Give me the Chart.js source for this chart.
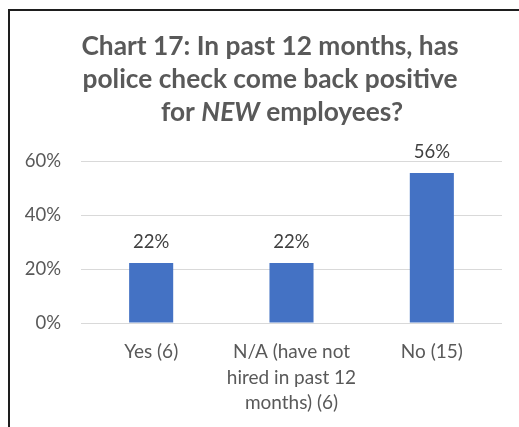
<!DOCTYPE html>
<html>
<head>
<meta charset="utf-8">
<script src="https://cdn.jsdelivr.net/npm/chart.js@4"></script>
<style>
  html, body { margin: 0; padding: 0; background: #fff; overflow: hidden; }
  #frame {
    position: absolute; left: 8px; top: 9px; width: 600px; height: 500px;
    border-left: 2px solid #1e1e1e; border-top: 2px solid #1e1e1e;
  }
  #wrap { position: absolute; left: 0; top: 0; width: 519px; height: 427px; }
</style>
</head>
<body>
<div id="frame"></div>
<div id="wrap"><canvas id="chart17"></canvas></div>
<script>
// survey answers (n = 27)
const categories = ['Yes (6)', ['N/A (have not', 'hired in past 12', 'months) (6)'], 'No (15)'];
const shares = [0.222, 0.222, 0.556];
const yTicks = [0, 0.2, 0.4, 0.6];

// title lines, each a list of runs so one word can be italic
const titleLines = [
  [{ text: 'Chart 17: In past 12 months, has' }],
  [{ text: 'police check come back positive' }],
  [{ text: 'for ' }, { text: 'NEW', italic: true }, { text: ' employees?' }]
];

const FONT = 'Lato, "Open Sans", sans-serif';
const GREY = '#595959';

const pct = v => Math.round(v * 100) + '%';

// draws the multi-run title above the plot
const runTitle = {
  id: 'runTitle',
  afterDraw(chart, args, opts) {
    const ctx = chart.ctx;
    ctx.save();
    ctx.fillStyle = opts.color;
    ctx.textBaseline = 'middle';
    ctx.textAlign = 'left';
    titleLines.forEach((runs, i) => {
      const fontOf = r => (r.italic ? 'italic ' : '') + 'bold ' + opts.size + 'px ' + FONT;
      let w = 0;
      runs.forEach(r => { ctx.font = fontOf(r); w += ctx.measureText(r.text).width; });
      let x = opts.centerX + (opts.shift[i] || 0) - w / 2;
      const y = opts.top + i * opts.lineHeight;
      runs.forEach(r => {
        ctx.font = fontOf(r);
        ctx.fillText(r.text, x, y);
        x += ctx.measureText(r.text).width;
      });
    });
    ctx.restore();
  }
};

// value labels above each bar
const barValues = {
  id: 'barValues',
  afterDatasetsDraw(chart, args, opts) {
    const ctx = chart.ctx;
    ctx.save();
    ctx.font = opts.size + 'px ' + FONT;
    ctx.fillStyle = opts.color;
    ctx.textAlign = 'center';
    ctx.textBaseline = 'middle';
    chart.getDatasetMeta(0).data.forEach((bar, i) => {
      ctx.fillText(pct(chart.data.datasets[0].data[i]), bar.x, bar.y - opts.offset);
    });
    ctx.restore();
  }
};

new Chart(document.getElementById('chart17'), {
  type: 'bar',
  data: {
    labels: categories,
    datasets: [{
      data: shares,
      backgroundColor: '#4472C4',
      borderWidth: 0,
      categoryPercentage: 1,
      barPercentage: 0.314
    }]
  },
  options: {
    responsive: true,
    maintainAspectRatio: false,
    animation: false,
    layout: { padding: { top: 161, right: 17, bottom: 0, left: 0 } },
    plugins: {
      legend: { display: false },
      tooltip: { enabled: false },
      runTitle: { color: GREY, size: 26.3, lineHeight: 33, top: 47, centerX: 270, shift: [0, 0, 12] },
      barValues: { color: '#404040', size: 18.5, offset: 21 }
    },
    scales: {
      x: {
        grid: { display: false, drawTicks: false },
        border: { display: false },
        ticks: { color: GREY, font: { family: FONT, size: 19, lineHeight: 1.35 }, padding: 16, maxRotation: 0 },
        afterFit(scale) { scale.height = 104; }
      },
      y: {
        min: 0,
        max: 0.6,
        afterBuildTicks(scale) { scale.ticks = yTicks.map(v => ({ value: v })); },
        grid: { color: '#d9d9d9', lineWidth: 1, drawTicks: false },
        border: { display: false },
        ticks: { color: GREY, font: { family: FONT, size: 18.5 }, padding: 20, callback: v => pct(v) },
        afterFit(scale) { scale.width = 81; }
      }
    }
  },
  plugins: [runTitle, barValues]
});
</script>
</body>
</html>
